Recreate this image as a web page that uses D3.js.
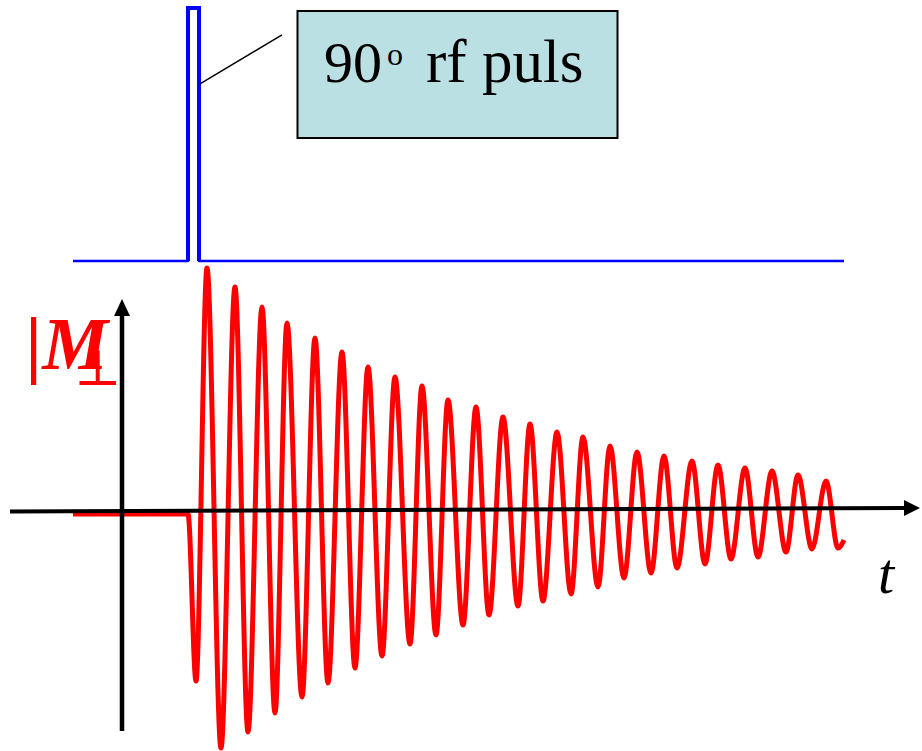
<!DOCTYPE html>
<html>
<head>
<meta charset="utf-8">
<script src="https://cdn.jsdelivr.net/npm/d3@7"></script>
<style>
    html, body { margin: 0; padding: 0; background: #fff; }
    svg { display: block; }
</style>
</head>
<body>
<div id="chart"></div>
<script>
// time runs from the vertical axis (t = 0), amplitude from the horizontal axis
const pulseT = [-49, 66, 66, 77, 77, 722];
const pulseA = [0, 0, 1, 1, 0, 0];

const leadT = [-49, 66];
const leadA = [0, 0];

const peakT = [85, 113, 140, 165, 193, 220, 246, 273, 300, 326, 354, 381,
               408, 435, 461, 488, 515, 542, 570, 596, 623, 650, 676, 704];
const peakA = [246, 227, 207, 191, 176, 162, 147, 137, 128, 114, 107, 97,
               90, 82, 77, 68, 62, 58, 53, 49, 46, 43, 39, 33];

const troughT = [74, 99, 126, 153, 180, 206, 233, 260, 288, 314, 341, 367,
                 396, 421, 449, 476, 502, 529, 555, 583, 609, 636, 664, 690, 716];
const troughA = [-167, -234, -218, -199, -183, -169, -154, -142, -130, -121, -111, -101,
                 -92, -87, -80, -73, -64, -59, -54, -50, -45, -43, -38, -35, -34];

const tailT = [722];
const tailA = [-26];

const pulseLabel = "90";
const pulseLabelSup = "o";
const pulseLabelRest = "rf puls";
const yLabel = "|M";
const yLabelSub = "\u22A5";
const xLabel = "t";

const width = 922;
const height = 751;

const serif = "'Liberation Serif', 'Times New Roman', serif";

const svg = d3.select("#chart")
    .append("svg")
    .attr("width", width)
    .attr("height", height);

// Scales
const xScale = d3.scaleLinear().domain([-112, 800]).range([10, 922]);
const yScale = d3.scaleLinear().domain([-250, 250]).range([764, 264]);
const pulseY = d3.scaleLinear().domain([0, 1]).range([261, 8]);

// rf pulse
const pulsePts = pulseT.map((t, i) => ({ t: t, a: pulseA[i] }));
svg.append("path")
    .datum(pulsePts)
    .attr("fill", "none")
    .attr("stroke", "#0000ff")
    .attr("stroke-width", 2.5)
    .attr("stroke-linejoin", "round")
    .attr("d", d3.line().x(d => xScale(d.t)).y(d => pulseY(d.a)));

// thicker pulse edges
svg.append("path")
    .datum(pulsePts.slice(1, 5))
    .attr("fill", "none")
    .attr("stroke", "#0000ff")
    .attr("stroke-width", 4)
    .attr("d", d3.line().x(d => xScale(d.t)).y(d => pulseY(d.a)));

// leader + callout box
svg.append("line")
    .attr("x1", xScale(78)).attr("y1", pulseY(0.70))
    .attr("x2", xScale(160)).attr("y2", pulseY(0.894))
    .attr("stroke", "#000")
    .attr("stroke-width", 1.5);

svg.append("rect")
    .attr("x", 297.5).attr("y", 11)
    .attr("width", 320).attr("height", 127)
    .attr("fill", "#bbe0e3")
    .attr("stroke", "#000")
    .attr("stroke-width", 2);

const callout = svg.append("text")
    .attr("font-family", serif)
    .attr("font-size", 61)
    .attr("fill", "#000");
callout.append("tspan").attr("x", 324).attr("y", 82).attr("font-size", 58).text(pulseLabel);
callout.append("tspan").attr("x", 387).attr("y", 65).attr("font-size", 32).text(pulseLabelSup);
callout.append("tspan").attr("x", 426).attr("y", 82).text(pulseLabelRest);

// FID signal
const fidPts = []
    .concat(leadT.map((t, i) => ({ t: t, a: leadA[i] })))
    .concat(peakT.map((t, i) => ({ t: t, a: peakA[i] })))
    .concat(troughT.map((t, i) => ({ t: t, a: troughA[i] })))
    .concat(tailT.map((t, i) => ({ t: t, a: tailA[i] })))
    .sort((p, q) => p.t - q.t);

svg.append("path")
    .datum(fidPts)
    .attr("fill", "none")
    .attr("stroke", "#ff0000")
    .attr("stroke-width", 5)
    .attr("stroke-linejoin", "round")
    .attr("d", d3.line()
        .x(d => xScale(d.t))
        .y(d => yScale(d.a))
        .curve(d3.curveMonotoneX));

// Axes with arrows
const x0 = xScale(0);
const y0 = yScale(0);

svg.append("line")
    .attr("x1", xScale(-112)).attr("y1", y0 - 2.5)
    .attr("x2", xScale(785)).attr("y2", y0 - 6)
    .attr("stroke", "#000")
    .attr("stroke-width", 4);
svg.append("path")
    .attr("d", `M${xScale(798)},${y0 - 6} L${xScale(782)},${y0 - 14} L${xScale(782)},${y0 + 2} Z`)
    .attr("fill", "#000");

svg.append("line")
    .attr("x1", x0).attr("y1", yScale(-217))
    .attr("x2", x0).attr("y2", yScale(200))
    .attr("stroke", "#000")
    .attr("stroke-width", 4.5);
svg.append("path")
    .attr("d", `M${x0},${yScale(215)} L${x0 - 8},${yScale(198)} L${x0 + 8},${yScale(198)} Z`)
    .attr("fill", "#000");

// Labels
svg.append("text")
    .attr("x", xScale(756))
    .attr("y", 593)
    .attr("font-family", serif)
    .attr("font-style", "italic")
    .attr("font-size", 58)
    .attr("fill", "#000")
    .text(xLabel);

const ml = svg.append("text")
    .attr("font-family", serif)
    .attr("font-style", "italic")
    .attr("font-weight", "bold")
    .attr("font-size", 74)
    .attr("fill", "#ff0000");
ml.append("tspan").attr("x", 26).attr("y", 369).text(yLabel);
ml.append("tspan").attr("x", 74).attr("y", 385)
    .attr("font-style", "normal")
    .attr("font-weight", "normal")
    .attr("font-size", 50)
    .attr("font-family", "'DejaVu Serif', serif")
    .text(yLabelSub);
</script>
</body>
</html>
